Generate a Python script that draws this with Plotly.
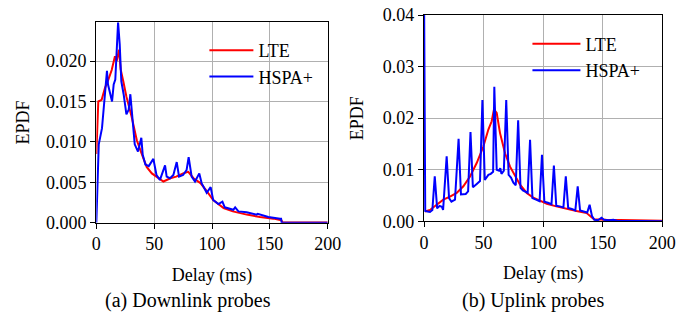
import plotly.graph_objects as go

# ---------------- Downlink probes (a) ----------------
dl_lte_x = [0, 0.5, 1.7, 4.6, 7.5, 10.4, 13.3, 16.1, 17.6, 19.6, 21, 23.3, 26, 30.5, 35, 39, 43.5, 48,
            52, 58, 64, 69, 75, 79.5, 84, 90, 95, 101, 110, 118, 130, 141.5, 153, 160, 161, 200]
dl_lte_y = [0.0085, 0.0105, 0.0150, 0.0152, 0.0167, 0.0177, 0.0189, 0.0206, 0.0200, 0.0214, 0.0190,
            0.0175, 0.0156, 0.0131, 0.0102, 0.0086, 0.0069, 0.0061, 0.0057, 0.0051, 0.0055, 0.0057,
            0.0061, 0.0063, 0.0055, 0.0049, 0.0040, 0.0028, 0.0018, 0.0014, 0.0010, 0.0007, 0.0005,
            0.0003, 0.00003, 0.00002]

dl_hspa_x = [0, 2.1, 4.9, 9.2, 10.1, 13.6, 15, 16.4, 18.8, 20.2, 21.6, 23.6, 26, 28, 29.4, 30.9, 33.2,
             36, 38.9, 40.1, 42.4, 45.3, 49.3, 52, 55, 59.4, 60.8, 63.7, 66.6, 69.5, 71.5, 75, 78,
             79.8, 82.4, 85.3, 89, 91, 95.4, 98.8, 101, 105.5, 109, 111, 118.4, 120, 122.8, 130,
             138.6, 139.5, 148.7, 158.8, 159.7, 160.2, 200]
dl_hspa_y = [0.0, 0.0097, 0.0117, 0.0188, 0.0171, 0.0150, 0.0171, 0.0177, 0.0248, 0.0221, 0.0175,
             0.0159, 0.0134, 0.0140, 0.0159, 0.0138, 0.0097, 0.0088, 0.0105, 0.0084, 0.0072, 0.0070,
             0.0079, 0.0059, 0.0053, 0.0071, 0.0057, 0.0055, 0.0059, 0.0075, 0.0057, 0.0059, 0.0065,
             0.0081, 0.0057, 0.0051, 0.0061, 0.0049, 0.0037, 0.0044, 0.0028, 0.0023, 0.0026, 0.0019,
             0.0016, 0.0019, 0.0014, 0.0013, 0.0010, 0.0011, 0.0007, 0.0005, 0.0005, 0.0, 0.0]

# ---------------- Uplink probes (b) ----------------
ul_lte_x = [0.8, 5, 10.6, 16.2, 21.8, 27.4, 33, 38.6, 44.2, 49.8, 54, 56.8, 58.7, 61, 63.8, 68, 72.2,
            76.4, 80.6, 86.2, 91.7, 97.3, 103, 111, 120, 128, 136.5, 140.7, 142.7, 153, 167, 181, 200]
ul_lte_y = [0.0019, 0.0022, 0.0032, 0.0042, 0.0048, 0.0055, 0.0068, 0.0087, 0.0113, 0.0145, 0.0178,
            0.0194, 0.0217, 0.0210, 0.0171, 0.0132, 0.0106, 0.0087, 0.0071, 0.0055, 0.0046, 0.0040,
            0.0034, 0.0029, 0.0025, 0.0020, 0.0016, 0.0009, 0.0004, 0.0003, 0.00026, 0.0002, 0.00013]

ul_hspa_x = [0, 1, 3, 5, 7, 9, 11, 13, 15, 16, 19, 21, 23, 26, 29, 31, 35, 37, 39, 41, 44, 47, 49, 51,
             54, 56, 58, 59, 61, 63, 64, 65, 67, 69, 71, 73, 75, 77, 79, 81, 83, 85, 87, 89, 91, 94,
             97, 99, 101, 104, 107, 109, 111, 114, 117, 119, 121, 124, 127, 129, 131, 134, 137, 139,
             141, 143, 146, 149, 151, 155, 159, 162, 170, 200]
ul_hspa_y = [0.045, 0.0020, 0.0019, 0.0018, 0.0022, 0.0087, 0.0025, 0.0030, 0.0028, 0.0022, 0.0126,
             0.0045, 0.0038, 0.0042, 0.0160, 0.0052, 0.0053, 0.0058, 0.0173, 0.0066, 0.0072, 0.0078,
             0.0235, 0.0080, 0.0090, 0.0092, 0.0096, 0.0261, 0.0100, 0.0098, 0.0103, 0.0092, 0.0098,
             0.0235, 0.0090, 0.0085, 0.0075, 0.0070, 0.0196, 0.0065, 0.0060, 0.0058, 0.0055, 0.0158,
             0.0045, 0.0042, 0.0039, 0.0129, 0.0038, 0.0036, 0.0033, 0.0108, 0.0030, 0.0029, 0.0027,
             0.0087, 0.0026, 0.0024, 0.0021, 0.0068, 0.0021, 0.0019, 0.0017, 0.0032, 0.0010, 0.0003,
             0.0002, 0.0007, 0.0003, 0.0002, 0.0003, 0.0001, 0.0001, 0.0000]

x_ticks = [0, 50, 100, 150, 200]
dl_y_ticks = [0.0, 0.005, 0.010, 0.015, 0.020]
ul_y_ticks = [0.00, 0.01, 0.02, 0.03, 0.04]

RED = "#ff0000"
BLUE = "#0000ff"
FONT = "Times New Roman, Liberation Serif, serif"
FS = 18

fig = go.Figure()
fig.add_trace(go.Scatter(x=dl_lte_x, y=dl_lte_y, mode="lines", name="LTE",
                         line=dict(color=RED, width=2), xaxis="x", yaxis="y", legend="legend"))
fig.add_trace(go.Scatter(x=dl_hspa_x, y=dl_hspa_y, mode="lines", name="HSPA+",
                         line=dict(color=BLUE, width=2), xaxis="x", yaxis="y", legend="legend"))
fig.add_trace(go.Scatter(x=ul_lte_x, y=ul_lte_y, mode="lines", name="LTE",
                         line=dict(color=RED, width=2), xaxis="x2", yaxis="y2", legend="legend2"))
fig.add_trace(go.Scatter(x=ul_hspa_x, y=ul_hspa_y, mode="lines", name="HSPA+",
                         line=dict(color=BLUE, width=2), xaxis="x2", yaxis="y2", legend="legend2"))

axis_common = dict(showline=True, linecolor="black", linewidth=1.3, mirror=True,
                   ticks="outside", ticklen=5, tickcolor="black", tickwidth=1.2,
                   showgrid=True, gridcolor="#b0b0b0", gridwidth=1.3, zeroline=False,
                   automargin=False,
                   tickfont=dict(family=FONT, size=FS, color="black"))

fig.update_layout(
    width=694, height=320,
    margin=dict(l=0, r=0, t=0, b=0, autoexpand=False),
    paper_bgcolor="white", plot_bgcolor="white",
    font=dict(family=FONT, size=FS, color="black"),
    xaxis=dict(domain=[0.1388, 0.4722], anchor="y", range=[0, 200], tickvals=x_ticks,
               title=dict(text="Delay (ms)", font=dict(family=FONT, size=FS), standoff=14),
               **axis_common),
    yaxis=dict(domain=[0.3041, 0.9303], anchor="x", range=[0, 0.0248], tickvals=dl_y_ticks,
               tickformat=".3f",
               title=dict(text="EPDF", font=dict(family=FONT, size=FS), standoff=11),
               **axis_common),
    xaxis2=dict(domain=[0.6110, 0.9543], anchor="y2", range=[0, 200], tickvals=x_ticks,
                title=dict(text="Delay (ms)", font=dict(family=FONT, size=FS), standoff=14),
                **axis_common),
    yaxis2=dict(domain=[0.3084, 0.9531], anchor="x2", range=[0, 0.04], tickvals=ul_y_ticks,
                tickformat=".2f",
                title=dict(text="EPDF", font=dict(family=FONT, size=FS), standoff=14),
                **axis_common),
    legend=dict(x=0.2945, y=0.9, xanchor="left", yanchor="top", bgcolor="rgba(0,0,0,0)",
                font=dict(family=FONT, size=FS), tracegroupgap=0, itemwidth=44),
    legend2=dict(x=0.760, y=0.92, xanchor="left", yanchor="top", bgcolor="rgba(0,0,0,0)",
                 font=dict(family=FONT, size=FS), tracegroupgap=0, itemwidth=48),
    annotations=[
        dict(text="(a) Downlink probes", x=0.271, y=1 - 300 / 320, xref="paper", yref="paper",
             showarrow=False, xanchor="center", yanchor="middle",
             font=dict(family=FONT, size=20)),
        dict(text="(b) Uplink probes", x=0.768, y=1 - 300 / 320, xref="paper", yref="paper",
             showarrow=False, xanchor="center", yanchor="middle",
             font=dict(family=FONT, size=20)),
    ],
)

fig.write_html("out.html", config={"displayModeBar": False},
               post_script="document.body.style.margin='0';")
